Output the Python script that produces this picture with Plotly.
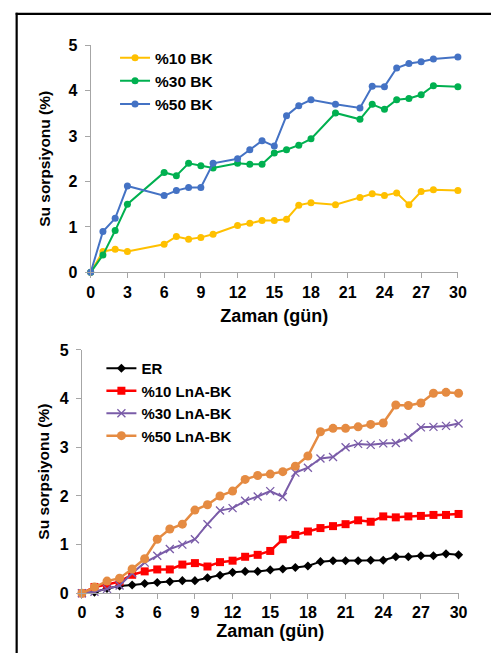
import plotly.graph_objects as go

# ---- data: top chart ----
days_top = [0, 1, 2, 3, 6, 7, 8, 9, 10, 12, 13, 14, 15, 16, 17, 18, 20, 22, 23, 24, 25, 26, 27, 28, 30]
bk10 = [0, 0.46, 0.51, 0.46, 0.62, 0.79, 0.73, 0.77, 0.84, 1.03, 1.08, 1.14, 1.14, 1.17, 1.48, 1.53,
        1.49, 1.65, 1.73, 1.69, 1.75, 1.49, 1.78, 1.82, 1.80]
bk30 = [0, 0.38, 0.92, 1.50, 2.20, 2.13, 2.40, 2.35, 2.30, 2.40, 2.38, 2.38, 2.63, 2.70, 2.80, 2.94,
        3.51, 3.37, 3.70, 3.59, 3.80, 3.83, 3.91, 4.11, 4.09]
bk50 = [0, 0.90, 1.19, 1.90, 1.69, 1.80, 1.87, 1.87, 2.40, 2.50, 2.70, 2.90, 2.78, 3.45, 3.67, 3.80,
        3.70, 3.62, 4.10, 4.09, 4.50, 4.60, 4.64, 4.70, 4.74]

# ---- data: bottom chart ----
days_bot = list(range(0, 31))
er = [0, 0.02, 0.10, 0.15, 0.17, 0.20, 0.22, 0.24, 0.26, 0.26, 0.32, 0.37, 0.43, 0.45, 0.45, 0.48,
      0.50, 0.53, 0.56, 0.65, 0.67, 0.67, 0.67, 0.68, 0.68, 0.75, 0.75, 0.77, 0.77, 0.81, 0.79]
lna10 = [0, 0.13, 0.18, 0.24, 0.38, 0.45, 0.49, 0.49, 0.59, 0.62, 0.55, 0.64, 0.67, 0.75, 0.79, 0.87,
         1.11, 1.20, 1.27, 1.34, 1.38, 1.42, 1.50, 1.47, 1.58, 1.56, 1.58, 1.59, 1.61, 1.61, 1.63]
lna30 = [0, 0.03, 0.09, 0.16, 0.41, 0.63, 0.77, 0.91, 1.00, 1.11, 1.42, 1.70, 1.75, 1.90, 1.99, 2.10,
         1.98, 2.48, 2.58, 2.77, 2.80, 3.00, 3.07, 3.05, 3.08, 3.09, 3.20, 3.41, 3.42, 3.44, 3.49]
lna50 = [0, 0.13, 0.25, 0.31, 0.50, 0.71, 1.11, 1.32, 1.42, 1.71, 1.82, 2.00, 2.10, 2.34, 2.42, 2.45,
         2.50, 2.61, 2.82, 3.32, 3.39, 3.39, 3.42, 3.47, 3.50, 3.87, 3.86, 3.91, 4.11, 4.13, 4.11]

x_ticks = list(range(0, 31, 3))
y_ticks = [0, 1, 2, 3, 4, 5]
x_title = "Zaman (gün)"
y_title = "Su sorpsiyonu (%)"

FONT = "Liberation Sans, Arial, sans-serif"
W, H = 500, 662

fig = go.Figure()

def add(x, y, name, color, symbol, msize, lw, xa, ya, legend, mline=None):
    marker = dict(symbol=symbol, size=msize, color=color)
    if mline:
        marker["line"] = dict(color=mline, width=1.3)
    fig.add_trace(go.Scatter(x=x, y=y, name=name, mode="lines+markers",
                             line=dict(color=color, width=lw), marker=marker,
                             xaxis=xa, yaxis=ya, legend=legend, cliponaxis=False))

add(days_top, bk10, "%10 BK", "#FFC000", "circle", 7, 2, "x", "y", "legend")
add(days_top, bk30, "%30 BK", "#00B050", "circle", 7, 2, "x", "y", "legend")
add(days_top, bk50, "%50 BK", "#4472C4", "circle", 7, 2, "x", "y", "legend")

add(days_bot, er, "ER", "#000000", "diamond", 7, 2, "x2", "y2", "legend2")
add(days_bot, lna10, "%10 LnA-BK", "#FF0000", "square", 8, 2.5, "x2", "y2", "legend2")
add(days_bot, lna30, "%30 LnA-BK", "#7A5CA8", "x-thin-open", 8, 2, "x2", "y2", "legend2", mline="#9B86C3")
add(days_bot, lna50, "%50 LnA-BK", "#E58B42", "circle", 9, 2.5, "x2", "y2", "legend2")

tickfont = dict(family=FONT, size=16, color="black", weight="bold")
xtitlefont = dict(family=FONT, size=18, color="black", weight="bold")
ytitlefont = dict(family=FONT, size=15.5, color="black", weight="bold")
legfont = dict(family=FONT, size=15.5, color="black", weight="bold")
legfont2 = dict(family=FONT, size=15, color="black", weight="bold")

def xaxis(domain, anchor, standoff):
    return dict(domain=domain, anchor=anchor, range=[0, 30], tickvals=x_ticks,
                showline=True, linecolor="#A6A6A6", linewidth=1, ticks="outside",
                ticklen=5, tickcolor="#A6A6A6", showgrid=False, zeroline=False,
                tickfont=tickfont, title=dict(text=x_title, font=xtitlefont, standoff=standoff))

def yaxis(domain, anchor, standoff):
    return dict(domain=domain, anchor=anchor, range=[0, 5], tickvals=y_ticks,
                showline=True, linecolor="#A6A6A6", linewidth=1, ticks="outside",
                ticklen=5, tickcolor="#A6A6A6", showgrid=False, zeroline=False,
                ticklabelstandoff=4,
                tickfont=tickfont, title=dict(text=y_title, font=ytitlefont, standoff=standoff))

fig.update_layout(
    width=W, height=H, margin=dict(l=0, r=0, t=0, b=0),
    paper_bgcolor="white", plot_bgcolor="white",
    xaxis=xaxis([89 / W, 466 / W], "y", 9),
    yaxis=yaxis([1 - 271.3 / H, 1 - 38.3 / H], "x", 14),
    xaxis2=xaxis([80 / W, 466.7 / W], "y2", 3),
    yaxis2=yaxis([1 - 600.7 / H, 1 - 351 / H], "x2", 6),
    legend=dict(x=114 / W, y=1 - 34 / H, xanchor="left", yanchor="top",
                bgcolor="rgba(0,0,0,0)", font=legfont, tracegroupgap=0, itemclick=False),
    legend2=dict(x=100 / W, y=1 - 353 / H, xanchor="left", yanchor="top",
                 bgcolor="rgba(0,0,0,0)", font=legfont2, tracegroupgap=0, itemclick=False),
    showlegend=True,
    shapes=[
        dict(type="line", xref="paper", yref="paper", x0=13 / W, x1=13 / W, y0=0, y1=1 - 5 / H,
             line=dict(color="black", width=2.2)),
        dict(type="line", xref="paper", yref="paper", x0=12 / W, x1=1, y0=1 - 6 / H, y1=1 - 6 / H,
             line=dict(color="black", width=2.2)),
    ],
)

fig.write_html("out.html")
